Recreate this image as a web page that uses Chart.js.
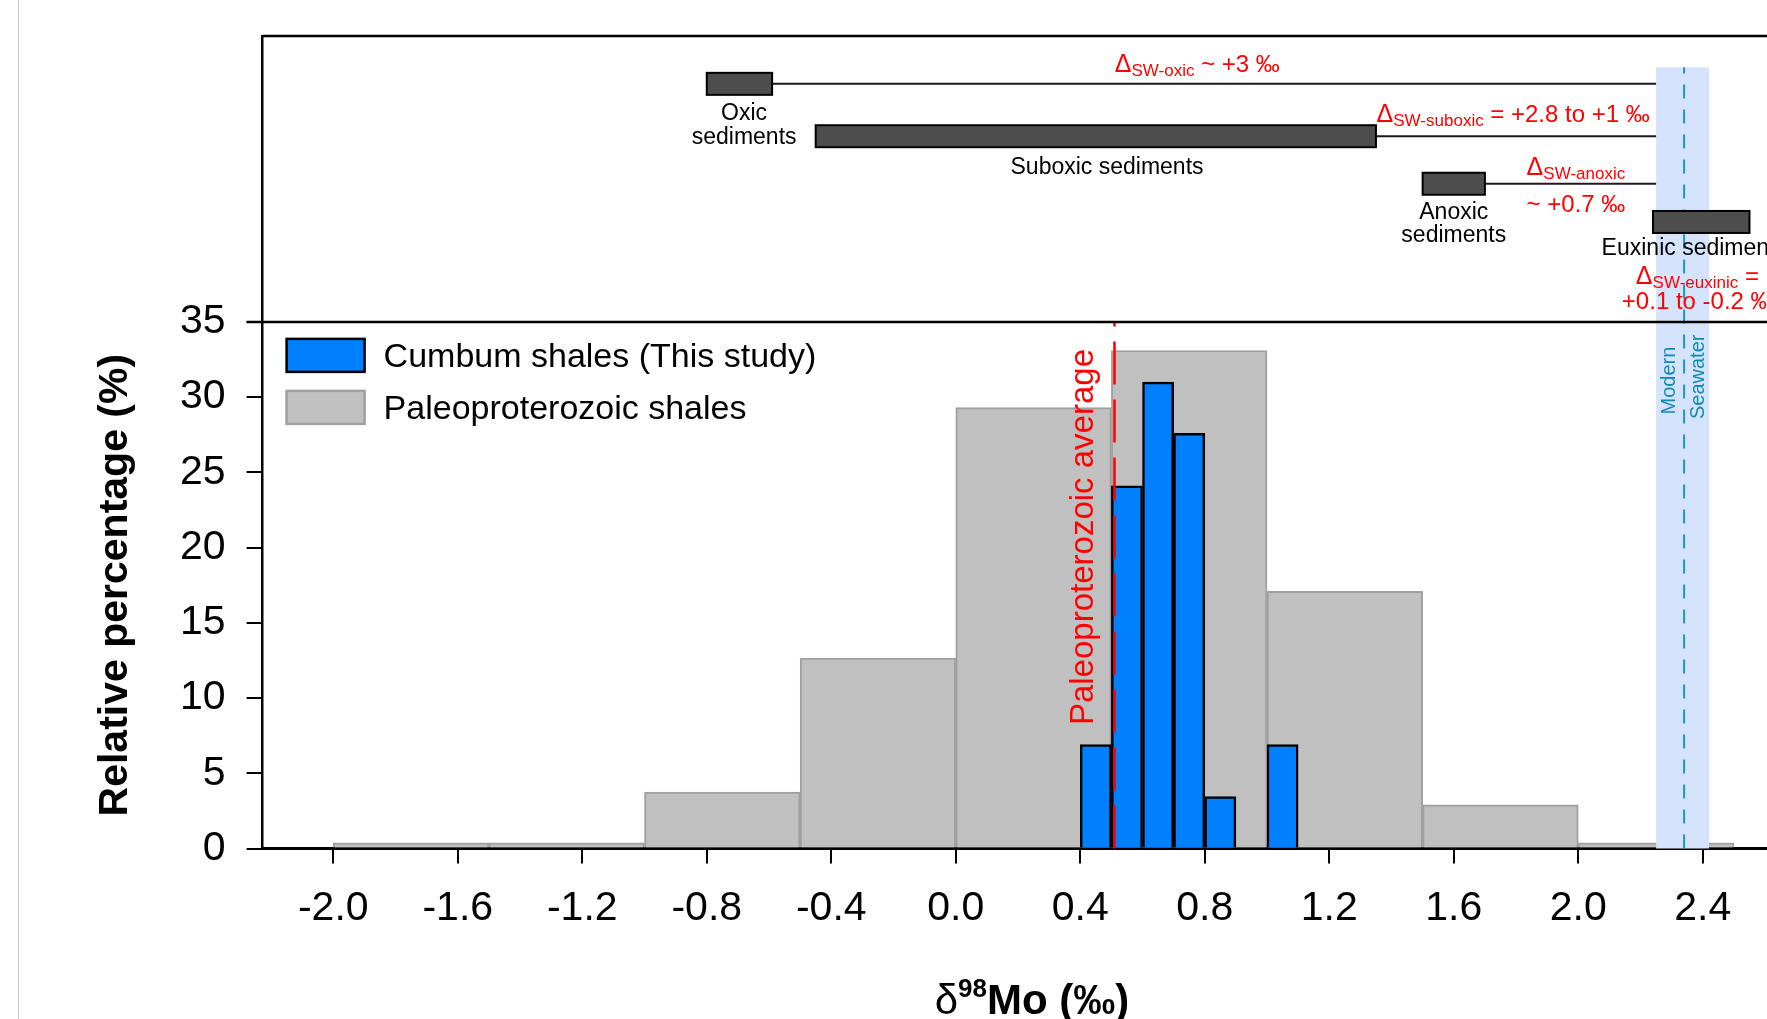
<!DOCTYPE html>
<html>
<head>
<meta charset="utf-8">
<script src="https://cdn.jsdelivr.net/npm/chart.js@4.4.1/dist/chart.umd.min.js"></script>
<style>
  html, body { margin: 0; padding: 0; background: #fff; overflow: hidden; }
  #wrap { position: relative; width: 1850px; height: 1019px; }
  #edge { position: absolute; left: 18px; top: 0; width: 1px; height: 1019px; background: #c8c8c8; }
</style>
</head>
<body>
<div id="wrap">
  <canvas id="moChart" width="1850" height="1019"></canvas>
  <div id="edge"></div>
</div>
<script>
// histogram bins: lower edge of each bin (permil) and relative percentage
const paleoBinStart = [-2.0, -1.5, -1.0, -0.5, 0.0, 0.5, 1.0, 1.5, 2.0];
const paleoPct = [0.37, 0.37, 3.75, 12.65, 29.3, 33.1, 17.1, 2.9, 0.37];
const cumbumBinStart = [0.4, 0.5, 0.6, 0.7, 0.8, 0.9, 1.0];
const cumbumPct = [6.9, 24.1, 31.0, 27.6, 3.45, null, 6.9];
const paleoBinWidth = 0.5;
const cumbumBinWidth = 0.1;

const xTickVals = [-2.0, -1.6, -1.2, -0.8, -0.4, 0.0, 0.4, 0.8, 1.2, 1.6, 2.0, 2.4];
const yTickMax = 35;

// sediment ranges shown in the upper panel (permil)
const sedNames = ["oxic", "suboxic", "anoxic", "euxinic"];
const sedLow = [-0.8, -0.45, 1.5, 2.24];
const sedHigh = [-0.59, 1.35, 1.7, 2.55];

const paleoAverage = 0.51;
const seawaterLow = 2.25;
const seawaterMean = 2.34;
const seawaterHigh = 2.42;

const FONT = '"Liberation Sans", Arial, sans-serif';
const RED = "#ff0000";
const TEAL = "rgb(16,140,178)";

// layout of the upper panel (y in axis units, above 35)
const X_MIN = -2.227, X_MAX = 2.873, Y_MAX = 54;
const sedRowY = [50.82, 47.34, 44.18, 41.64];
const bandTop = 51.92;

const notes = [
  { x: -0.68, y: 48.43, align: "center", color: "#000", parts: [{ t: "Oxic", s: 23 }] },
  { x: -0.68, y: 46.84, align: "center", color: "#000", parts: [{ t: "sediments", s: 23 }] },
  { x: 0.486, y: 44.84, align: "center", color: "#000", parts: [{ t: "Suboxic sediments", s: 23 }] },
  { x: 1.60, y: 41.81, align: "center", color: "#000", parts: [{ t: "Anoxic", s: 23 }] },
  { x: 1.60, y: 40.30, align: "center", color: "#000", parts: [{ t: "sediments", s: 23 }] },
  { x: 2.075, y: 39.42, align: "left", color: "#000", parts: [{ t: "Euxinic sediments", s: 23 }] },
  { x: 0.511, y: 51.59, align: "left", color: RED,
    parts: [{ t: "Δ", s: 25 }, { t: "SW-oxic", s: 17, dy: 4 }, { t: " ~ +3 ‰", s: 24 }] },
  { x: 1.352, y: 48.27, align: "left", color: RED,
    parts: [{ t: "Δ", s: 25 }, { t: "SW-suboxic", s: 17, dy: 4 }, { t: " = +2.8 to +1 ‰", s: 24 }] },
  { x: 1.834, y: 44.73, align: "left", color: RED,
    parts: [{ t: "Δ", s: 25 }, { t: "SW-anoxic", s: 17, dy: 4 }] },
  { x: 1.834, y: 42.29, align: "left", color: RED, parts: [{ t: "~ +0.7 ‰", s: 24 }] },
  { x: 2.185, y: 37.54, align: "left", color: RED,
    parts: [{ t: "Δ", s: 25 }, { t: "SW-euxinic", s: 17, dy: 4 }, { t: " =", s: 24 }] },
  { x: 2.14, y: 35.88, align: "left", color: RED, parts: [{ t: "+0.1 to -0.2 ‰", s: 24 }] },
];

function richText(ctx, x, y, parts, align, color) {
  let w = 0;
  parts.forEach(p => {
    ctx.font = (p.b ? "bold " : "") + p.s + "px " + FONT;
    p.w = ctx.measureText(p.t).width;
    w += p.w;
  });
  let cx = align === "center" ? x - w / 2 : x;
  ctx.fillStyle = color;
  ctx.textAlign = "left";
  ctx.textBaseline = "alphabetic";
  parts.forEach(p => {
    ctx.font = (p.b ? "bold " : "") + p.s + "px " + FONT;
    ctx.fillText(p.t, cx, y + (p.dy || 0));
    cx += p.w;
  });
}

function rotText(ctx, text, x, y, font, color) {
  ctx.save();
  ctx.translate(x, y);
  ctx.rotate(-Math.PI / 2);
  ctx.font = font;
  ctx.fillStyle = color;
  ctx.textAlign = "center";
  ctx.textBaseline = "alphabetic";
  ctx.fillText(text, 0, 0);
  ctx.restore();
}

function vDash(ctx, xp, y1, y2, dash, color, width) {
  ctx.save();
  ctx.strokeStyle = color;
  ctx.lineWidth = width;
  ctx.setLineDash(dash);
  ctx.beginPath();
  ctx.moveTo(xp, y1);
  ctx.lineTo(xp, y2);
  ctx.stroke();
  ctx.restore();
}

const panelPlugin = {
  id: "panel",
  afterDatasetsDraw(chart) {
    const { ctx, scales: { x, y } } = chart;
    ctx.save();
    // modern seawater band
    const bx1 = x.getPixelForValue(seawaterLow), bx2 = x.getPixelForValue(seawaterHigh);
    const bTop = y.getPixelForValue(bandTop), bBot = y.getPixelForValue(0);
    ctx.fillStyle = "rgb(213,228,252)";
    ctx.fillRect(bx1, bTop, bx2 - bx1, bBot - bTop);
    vDash(ctx, x.getPixelForValue(seawaterMean), bBot, bTop, [14, 11], "rgb(30,150,190)", 2);

    // sediment ranges with connector lines to seawater
    sedNames.forEach((n, i) => {
      const yc = y.getPixelForValue(sedRowY[i]);
      const x1 = x.getPixelForValue(sedLow[i]), x2 = x.getPixelForValue(sedHigh[i]);
      if (sedHigh[i] < seawaterLow) {
        ctx.strokeStyle = "#1a1a1a";
        ctx.lineWidth = 2;
        ctx.beginPath();
        ctx.moveTo(x2, yc);
        ctx.lineTo(bx1, yc);
        ctx.stroke();
      }
      ctx.fillStyle = "#4d4d4d";
      ctx.fillRect(x1, yc - 11, x2 - x1, 22);
      ctx.strokeStyle = "#000";
      ctx.lineWidth = 2;
      ctx.strokeRect(x1, yc - 11, x2 - x1, 22);
    });

    // paleoproterozoic average
    vDash(ctx, x.getPixelForValue(paleoAverage), y.getPixelForValue(0), y.getPixelForValue(35), [43, 15], RED, 2.5);
    rotText(ctx, "Paleoproterozoic average", x.getPixelForValue(0.441), y.getPixelForValue(20.7), "33px " + FONT, RED);
    rotText(ctx, "Modern", x.getPixelForValue(2.311), y.getPixelForValue(31.1), "20px " + FONT, TEAL);
    rotText(ctx, "Seawater", x.getPixelForValue(2.404), y.getPixelForValue(31.35), "20px " + FONT, TEAL);

    notes.forEach(n => richText(ctx, x.getPixelForValue(n.x), y.getPixelForValue(n.y), n.parts, n.align, n.color));
    ctx.restore();
  },
  afterDraw(chart) {
    const { ctx, chartArea: a, scales: { x, y } } = chart;
    ctx.save();
    ctx.strokeStyle = "#000";
    // top frame and panel divider
    ctx.lineWidth = 2.5;
    ctx.beginPath();
    ctx.moveTo(a.left, a.top);
    ctx.lineTo(a.right, a.top);
    const yd = y.getPixelForValue(35);
    ctx.moveTo(a.left - 16, yd);
    ctx.lineTo(a.right, yd);
    ctx.stroke();

    // legend
    const lx = a.left + 24;
    chart.data.datasets.forEach((ds, i) => {
      const top = yd + 17 + i * 52;
      ctx.fillStyle = ds.backgroundColor;
      ctx.fillRect(lx, top, 78, 33);
      ctx.strokeStyle = ds.borderColor;
      ctx.lineWidth = 2.5;
      ctx.strokeRect(lx, top, 78, 33);
      ctx.fillStyle = "#000";
      ctx.font = "34px " + FONT;
      ctx.textAlign = "left";
      ctx.textBaseline = "alphabetic";
      ctx.fillText(ds.label, lx + 97, top + 28);
    });

    // axis titles
    rotText(ctx, "Relative percentage (%)", a.left - 135.6, y.getPixelForValue(17.5), "bold 41px " + FONT, "#000");
    richText(ctx, x.getPixelForValue(0.245), a.bottom + 165.5,
      [{ t: "δ", s: 42 }, { t: "98", s: 26, b: true, dy: -17 }, { t: "Mo (‰)", s: 42, b: true }], "center", "#000");
    ctx.restore();
  },
};

const hiddenX = (starts, width) => ({
  type: "linear",
  display: false,
  min: X_MIN,
  max: X_MAX,
  offset: false,
  grid: { offset: false },
  afterBuildTicks: s => { s.ticks = starts.map(v => ({ value: v + width / 2 })); },
});

const data = {
  datasets: [
    {
      label: "Cumbum shales (This study)",
      data: cumbumBinStart.map((v, i) => ({ x: v + cumbumBinWidth / 2, y: cumbumPct[i] })),
      xAxisID: "xb",
      backgroundColor: "rgb(0,128,255)",
      borderColor: "#000",
      borderWidth: 2.5,
      barPercentage: 1,
      categoryPercentage: 1,
      grouped: false,
    },
    {
      label: "Paleoproterozoic shales",
      data: paleoBinStart.map((v, i) => ({ x: v + paleoBinWidth / 2, y: paleoPct[i] })),
      xAxisID: "xg",
      backgroundColor: "rgb(192,192,192)",
      borderColor: "rgb(160,160,160)",
      borderWidth: 2,
      barPercentage: 1,
      categoryPercentage: 1,
      grouped: false,
    },
  ],
};

Chart.defaults.font.family = FONT;

const config = {
  type: "bar",
  data: data,
  options: {
    responsive: false,
    animation: false,
    events: [],
    devicePixelRatio: 1,
    layout: { padding: { top: 36, left: 0, right: 0, bottom: 0 } },
    plugins: { legend: { display: false }, tooltip: { enabled: false } },
    scales: {
      x: {
        type: "linear",
        position: "bottom",
        min: X_MIN,
        max: X_MAX,
        offset: false,
        z: 1,
        afterBuildTicks: s => { s.ticks = xTickVals.map(v => ({ value: v })); },
        afterFit: s => { s.height = 170.5; s.paddingLeft = 0; s.paddingRight = 0; },
        grid: { offset: false, drawOnChartArea: false, drawTicks: true, tickLength: 15, color: "#000", lineWidth: 2 },
        border: { display: true, color: "#000", width: 3 },
        ticks: {
          autoSkip: false, maxRotation: 0, minRotation: 0, padding: 21,
          color: "#000", font: { size: 41 },
          callback: v => v.toFixed(1),
        },
      },
      xg: hiddenX(paleoBinStart, paleoBinWidth),
      xb: hiddenX(cumbumBinStart, cumbumBinWidth),
      y: {
        type: "linear",
        min: 0,
        max: Y_MAX,
        z: 1,
        afterBuildTicks: s => { s.ticks = s.ticks.filter(t => t.value <= yTickMax); },
        afterFit: s => { s.width = 262.6; s.paddingTop = 0; s.paddingBottom = 0; },
        grid: { drawOnChartArea: false, drawTicks: true, tickLength: 16, color: "#000", lineWidth: 2 },
        border: { display: true, color: "#000", width: 2.5 },
        ticks: { stepSize: 5, padding: 21, color: "#000", font: { size: 41 } },
      },
    },
  },
  plugins: [panelPlugin],
};

let moChart;
const cntx = document.getElementById("moChart").getContext("2d");
if (moChart) moChart.destroy();
moChart = new Chart(cntx, config);
</script>
</body>
</html>
